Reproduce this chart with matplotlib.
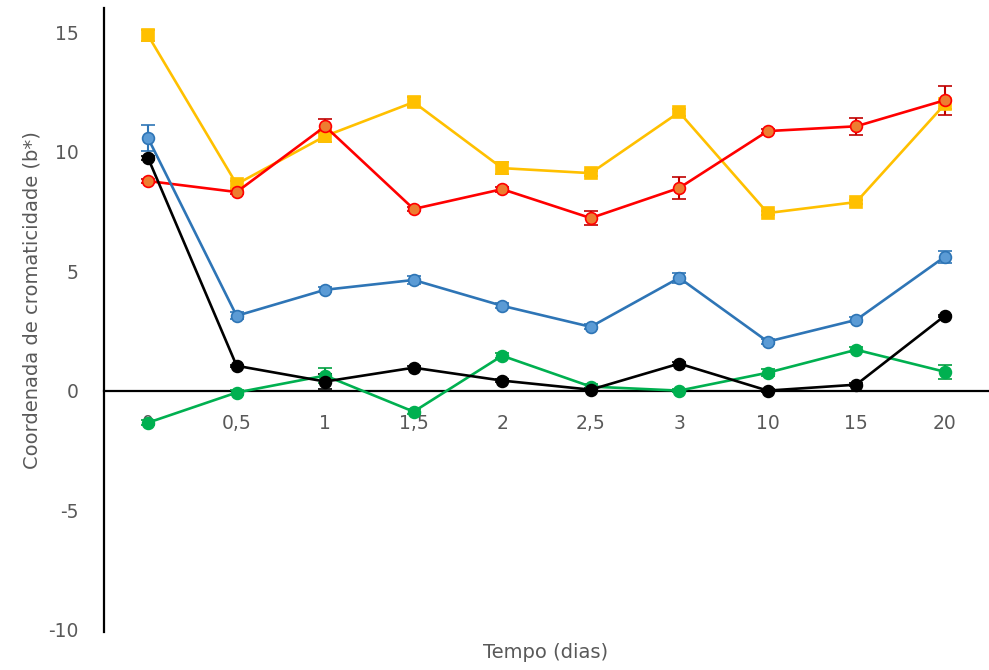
import matplotlib
matplotlib.use("Agg")
import matplotlib.pyplot as plt
import numpy as np

categories = ["0", "0,5", "1", "1,5", "2", "2,5", "3", "10", "15", "20"]

yellow = [14.86, 8.64, 10.65, 12.07, 9.31, 9.10, 11.65, 7.43, 7.89, 11.98]
yellow_err = [0.25, 0.15, 0.25, 0.2, 0.25, 0.1, 0.15, 0.1, 0.1, 0.2]
red = [8.77, 8.31, 11.06, 7.60, 8.43, 7.22, 8.48, 10.86, 11.06, 12.15]
red_err = [0.1, 0.1, 0.3, 0.1, 0.1, 0.28, 0.46, 0.1, 0.35, 0.6]
blue = [10.56, 3.13, 4.22, 4.63, 3.55, 2.67, 4.72, 2.05, 2.96, 5.60]
blue_err = [0.55, 0.15, 0.1, 0.15, 0.1, 0.1, 0.2, 0.1, 0.1, 0.25]
black = [9.73, 1.04, 0.38, 0.96, 0.42, 0.04, 1.13, 0.00, 0.25, 3.13]
black_err = [0.1, 0.05, 0.3, 0.05, 0.05, 0.05, 0.05, 0.05, 0.05, 0.05]
green = [-1.34, -0.08, 0.63, -0.88, 1.46, 0.17, 0.00, 0.75, 1.71, 0.79]
green_err = [0.1, 0.1, 0.3, 0.1, 0.1, 0.1, 0.05, 0.15, 0.1, 0.3]

series = [
    (yellow, yellow_err, "#FFC000", "#FFC000", "#E6A800", "s"),
    (red, red_err, "#FF0000", "#ED7D31", "#C00000", "o"),
    (blue, blue_err, "#2E75B6", "#5B9BD5", "#2E75B6", "o"),
    (green, green_err, "#00B050", "#00B050", "#00A040", "o"),
    (black, black_err, "#000000", "#000000", "#000000", "o"),
]

fig = plt.figure(figsize=(9.89, 6.70), dpi=100)
ax = fig.add_axes([0.105, 0.0567, 0.895, 0.931])

x = np.arange(len(categories))
for vals, err, lc, fc, ec, mk in series:
    ax.errorbar(x, vals, yerr=err, color=lc, lw=1.9, marker=mk, markersize=8.5,
                markerfacecolor=fc, markeredgecolor=lc, markeredgewidth=1.2,
                ecolor=ec, elinewidth=1.5, capsize=5, capthick=1.5, zorder=3)

ax.set_xlim(-0.5, 9.5)
ax.set_ylim(-10.1, 16)
ax.set_yticks([-10, -5, 0, 5, 10, 15])
ax.set_yticklabels(["-10", "-5", "0", "5", "10", "15"])
ax.set_xticks(x)
ax.set_xticklabels(categories)

for s in ["top", "right"]:
    ax.spines[s].set_visible(False)
ax.spines["bottom"].set_position(("data", 0))
ax.spines["bottom"].set_linewidth(1.6)
ax.spines["left"].set_linewidth(1.6)
ax.spines["bottom"].set_zorder(2)

ax.tick_params(axis="both", length=0, labelsize=13.5, labelcolor="#595959")
ax.tick_params(axis="x", pad=17)
ax.tick_params(axis="y", pad=18)

fig.text(546 / 989, 1 - 652 / 670, "Tempo (dias)", ha="center", va="center",
         fontsize=14, color="#595959")
fig.text(32 / 989, 1 - 300 / 670, "Coordenada de cromaticidade (b*)", ha="center",
         va="center", rotation=90, fontsize=14, color="#595959")

fig.savefig("out.png", dpi=100)
